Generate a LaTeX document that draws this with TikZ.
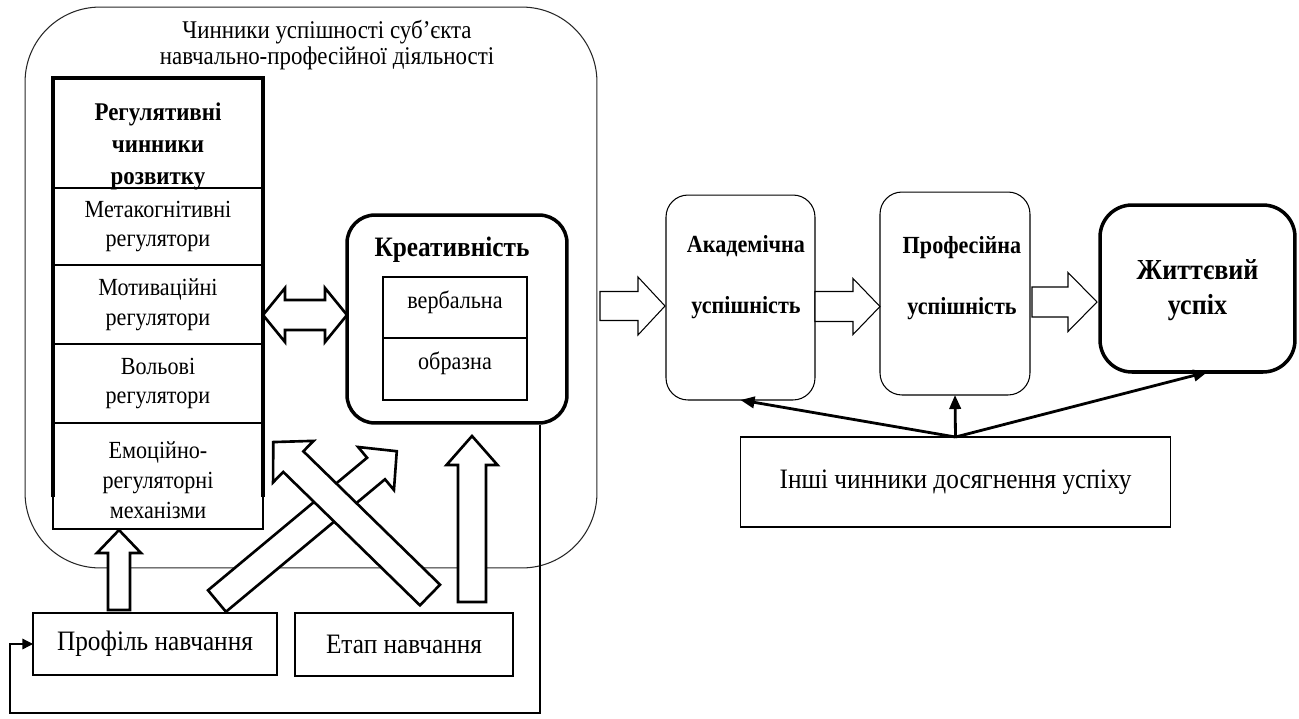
\documentclass[tikz,border=0pt]{standalone}
\usepackage{fontspec}
\setmainfont{Liberation Serif}[FakeStretch=0.9]
\usetikzlibrary{arrows.meta,calc}
\newcommand\fsTitle{\fontsize{14.5pt}{14.7pt}\selectfont}
\newcommand\fsCol{\fontsize{14pt}{17pt}\selectfont}
\newcommand\fsHdr{\fontsize{14.5pt}{18.2pt}\selectfont\bfseries}
\newcommand\fsBody{\fontsize{16pt}{19pt}\selectfont}
\newcommand\fsCre{\fontsize{16pt}{19pt}\selectfont\bfseries}
\newcommand\fsSucc{\fontsize{14pt}{34.6pt}\selectfont\bfseries}
\newcommand\fsLife{\fontsize{16.5pt}{22pt}\selectfont\bfseries}
\newcommand\upby[2]{\raisebox{#1}[\height][\depth]{#2}}
\tikzset{
  thinbox/.style={draw, line width=0.6pt, inner sep=0pt, outer sep=0pt, align=center},
  sect/.style={thinbox, minimum width=4.2cm},
  blk/.style={draw, fill=white, line width=1.5pt, line join=miter},
  blkthin/.style={draw, fill=white, line width=0.6pt, line join=miter},
  sarrow/.style={line width=1.6pt, -{Triangle[length=8pt,width=6.5pt]}},
  pics/barrow/.style args={#1/#2/#3/#4}{code={%
    \path[pic actions] (0,-#2) -- ({#1-#4},-#2) -- ({#1-#4},-#3) -- (#1,0) -- ({#1-#4},#3) -- ({#1-#4},#2) -- (0,#2) -- cycle;}},
  pics/dbarrow/.style args={#1/#2/#3/#4}{code={%
    \path[pic actions] (0,0) -- (#4,-#3) -- (#4,-#2) -- ({#1-#4},-#2) -- ({#1-#4},-#3) -- (#1,0) -- ({#1-#4},#3) -- ({#1-#4},#2) -- (#4,#2) -- (#4,#3) -- cycle;}},
}
\begin{document}
\begin{tikzpicture}[x=0.02cm,y=-0.02cm]
\useasboundingbox (0,0) rectangle (1299,718);

% big rounded frame
\node[thinbox, draw=black!85, minimum width=11.44cm, minimum height=11.22cm, rounded corners=1.5cm] (big) at (311,287.5) {};
\node[align=center, font=\fsTitle] (title) at (327,45) {Чинники успішності суб'єкта\\навчально-професійної діяльності};

% regulative column
\node[sect, minimum height=2.2cm] (hdr) at (158,133) {};
\node[font=\fsHdr, align=center] (hdrt) at (158,146) {Регулятивні\\чинники\\розвитку};
\node[sect, minimum height=1.54cm, font=\fsCol] (meta) at (158,226.5) {Метакогнітивні\\регулятори};
\node[sect, minimum height=1.58cm, font=\fsCol] (motiv) at (158,304.5) {Мотиваційні\\регулятори};
\node[sect, minimum height=1.58cm, font=\fsCol] (vol) at (158,383.5) {Вольові\\регулятори};
\node[sect, minimum height=2.12cm] (emo) at (158,476) {};
\node[font=\fsCol, align=center] (emot) at (158,480) {Емоційно-\\регуляторні\\механізми};
\draw[line width=2pt] ([yshift=0.64cm]emo.south west) -- (hdr.north west) -- (hdr.north east) -- ([yshift=0.64cm]emo.south east);

% creativity
\node[draw, line width=2pt, rounded corners=0.56cm, minimum width=4.4cm, minimum height=4.16cm, inner sep=0pt, outer sep=0pt] (creat) at (457,319) {};
\node[font=\fsCre] (cret) at (452,250) {Креативність};
\node[thinbox, minimum width=2.88cm, minimum height=1.22cm, font=\fsCol] (verb) at (455,307.5) {\upby{3pt}{вербальна}};
\node[thinbox, minimum width=2.88cm, minimum height=1.24cm, font=\fsCol] (obr) at (455,369) {\upby{3pt}{образна}};

% bottom boxes
\node[thinbox, minimum width=4.88cm, minimum height=1.24cm, font=\fsBody] (profil) at (155,644) {Профіль навчання};
\node[thinbox, minimum width=4.36cm, minimum height=1.26cm, font=\fsBody] (etap) at (404,644.5) {Етап навчання};

% block arrows (left part)
\pic[blk] at (263,315) {dbarrow=84/15/27/22};
\pic[blk, rotate=90] at (119,610) {barrow=80/11/22/23};
\pic[blk, rotate=90] at (472,602) {barrow=166/14/25.5/29};
\pic[blk, rotate=39.8] at (217,601) {barrow=234/14/28/27};
\pic[blk, rotate=135.7] at (430,595) {barrow=219/14.4/29/28};

% feedback line
\coordinate (fbs) at (540,425);
\draw[line width=0.7pt, -{Triangle[length=6pt,width=6pt]}] (fbs) -- (540,713) -- (10,713) -- (10,644) -- (profil.west);

% right part
\node[thinbox, rounded corners=0.44cm, minimum width=2.98cm, minimum height=4.1cm] (acad) at (740.5,297.5) {};
\node[font=\fsSucc, align=center] (acadt) at (746,277.5) {Академічна\\успішність};
\node[thinbox, rounded corners=0.44cm, minimum width=3.0cm, minimum height=4.06cm] (profb) at (955,293.5) {};
\node[font=\fsSucc, align=center] (profbt) at (962,278) {Професійна\\успішність};
\node[thinbox, line width=2pt, rounded corners=0.64cm, minimum width=3.9cm, minimum height=3.34cm, font=\fsLife] (life) at (1197.5,288.5) {\upby{-2pt}{Життєвий}\\успіх};
\node[thinbox, minimum width=8.62cm, minimum height=1.8cm, font=\fsBody] (oth) at (955.5,482) {Інші чинники досягнення успіху};

\pic[blkthin] at (600,306) {barrow=65/14.5/29/27};
\pic[blkthin] at (815,306.5) {barrow=65/15/28/27};
\pic[blkthin] at (1032,302) {barrow=65/15/29.5/29};

\draw[sarrow] (oth.north) -- (acad.south);
\draw[sarrow] (oth.north) -- (profb.south);
\draw[sarrow] (oth.north) -- ([xshift=0.2cm]life.south);
\end{tikzpicture}
\end{document}
